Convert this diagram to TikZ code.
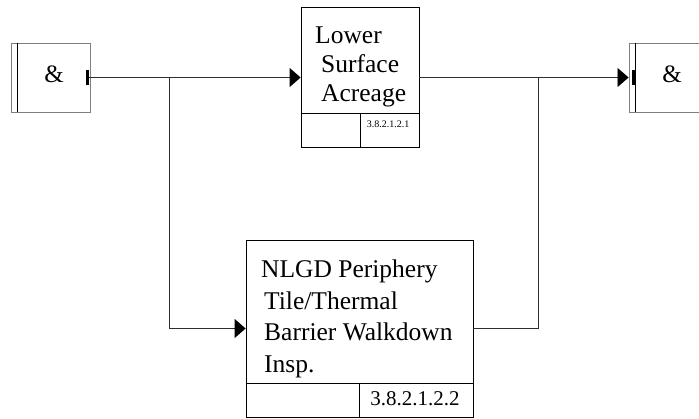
\documentclass[tikz,border=0pt]{standalone}
\usepackage{fontspec}
\setmainfont{Liberation Serif}
\usetikzlibrary{arrows.meta,calc,positioning}
\definecolor{edgegray}{HTML}{7F7F7F}
\definecolor{linegray}{HTML}{2E2E2E}

\begin{document}
\begin{tikzpicture}[x=1pt,y=-1pt,
  procbox/.style={draw=black,line width=0.8pt,inner sep=0pt},
  andbox/.style={draw=edgegray,line width=0.9pt,inner sep=0pt,minimum width=79pt,minimum height=69pt},
  flow/.style={draw=linegray,line width=0.8pt},
  tip/.style={-{Triangle[length=11pt,width=19pt,color=black]}},
  stub/.style={fill=black,inner sep=0pt,minimum width=3.5pt,minimum height=15pt},
  bigtext/.style={align=left,inner sep=0pt,anchor=north west},
  ]
  \useasboundingbox (0,0) rectangle (699,419);
  \clip (0,0) rectangle (699,419);

  % junction boxes
  \node[andbox] (andL) at (50.5,77.5) {};
  \draw[black,line width=0.8pt] ($(andL.north west)+(7,0)$) -- ($(andL.south west)+(7,0)$);
  \node[font=\fontsize{25}{28}\selectfont] (ampL) at (54,74) {\&};
  \node[stub] (barL) at (87.5,77.5) {};

  \node[andbox] (andR) at (668.5,77.5) {};
  \draw[black,line width=0.8pt] ($(andR.north west)+(7,0)$) -- ($(andR.south west)+(7,0)$);
  \node[font=\fontsize{25}{28}\selectfont] (ampR) at (672,74) {\&};
  \node[stub] (barR) at (633.5,77.5) {};

  % activity boxes
  \node[procbox,minimum width=118pt,minimum height=140pt] (acreage) at (360,77.5) {};
  \draw[procbox] ($(acreage.south west)+(0,-34)$) -- ($(acreage.south east)+(0,-34)$);
  \draw[procbox] ($(acreage.south)+(0,-34)$) -- (acreage.south);
  \node[bigtext,font=\fontsize{25.5}{29}\selectfont] (acreagetxt) at (315,27)
    {Lower\\\hspace*{6pt}Surface\\\hspace*{6pt}Acreage};
  \node[font=\fontsize{10}{12}\selectfont] (acreageno) at (388,124) {3.8.2.1.2.1};

  \node[procbox,minimum width=227pt,minimum height=177pt] (nlgd) at (359.5,328.5) {};
  \draw[procbox] ($(nlgd.south west)+(0,-34)$) -- ($(nlgd.south east)+(0,-34)$);
  \draw[procbox] ($(nlgd.south)+(0,-34)$) -- (nlgd.south);
  \node[bigtext,font=\fontsize{25.5}{31.5}\selectfont] (nlgdtxt) at (261,260)
    {NLGD Periphery\\\hspace*{3pt}Tile/Thermal\\\hspace*{3pt}Barrier Walkdown\\\hspace*{3pt}Insp.};
  \node[font=\fontsize{21}{24}\selectfont] (nlgdno) at (415,399) {3.8.2.1.2.2};

  % connectors
  \coordinate (splitL) at (169,77.5);
  \coordinate (joinR) at (538,77.5);
  \draw[flow,tip] (barL.east) -- (acreage.west);
  \draw[flow,tip] (splitL) |- (nlgd.west);
  \draw[flow,tip] (acreage.east) -- (andR.west);
  \draw[flow] (nlgd.east) -| (joinR);
\end{tikzpicture}
\end{document}
